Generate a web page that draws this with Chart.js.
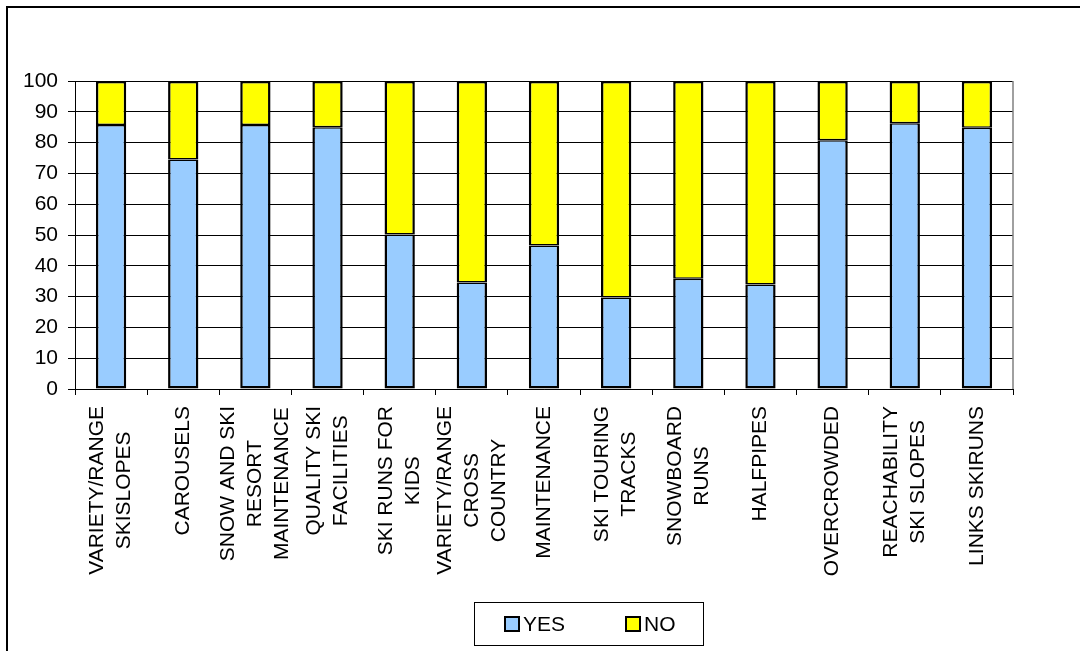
<!DOCTYPE html>
<html>
<head>
<meta charset="utf-8">
<script src="https://cdn.jsdelivr.net/npm/chart.js@4.4.1/dist/chart.umd.min.js"></script>
<style>
  body { margin: 0; background: #fff; overflow: hidden; }
  .marco { position: absolute; left: 6px; top: 6px; width: 1100px; height: 700px; border: 2px solid #000; }
  canvas { position: absolute; left: 0; top: 0; }
</style>
</head>
<body>
<div class="marco"></div>
<canvas id="grafico" width="1080" height="651"></canvas>
<script>
// categorias (cada linha do rótulo numa posição do array)
const categorias = [
  ["VARIETY/RANGE", "SKISLOPES"],
  ["CAROUSELS"],
  ["SNOW AND SKI", "RESORT", "MAINTENANCE"],
  ["QUALITY SKI", "FACILITIES"],
  ["SKI RUNS FOR", "KIDS"],
  ["VARIETY/RANGE", "CROSS", "COUNTRY"],
  ["MAINTENANCE"],
  ["SKI TOURING", "TRACKS"],
  ["SNOWBOARD", "RUNS"],
  ["HALFPIPES"],
  ["OVERCROWDED"],
  ["REACHABILITY", "SKI SLOPES"],
  ["LINKS SKIRUNS"]
];
const valoresSim = [85.7, 74.5, 85.7, 85.0, 50.2, 34.6, 46.6, 29.7, 35.8, 33.9, 80.8, 86.3, 84.8];
const valoresNao = [14.3, 25.5, 14.3, 15.0, 49.8, 65.4, 53.4, 70.3, 64.2, 66.1, 19.2, 13.7, 15.2];
const ticksY = [0, 10, 20, 30, 40, 50, 60, 70, 80, 90, 100];
const legendas = ["YES", "NO"];

const FONTE = "'Liberation Sans', Arial, sans-serif";
Chart.defaults.font.family = FONTE;
Chart.defaults.font.size = 21;
Chart.defaults.color = "#000";

// rótulos do eixo x rotacionados, com as linhas centradas entre si
const rotulosX = {
  id: "rotulosX",
  afterDraw(chart) {
    const ctx = chart.ctx;
    const escala = chart.scales.x;
    const entrelinha = 27;
    ctx.save();
    ctx.font = "21px " + FONTE;
    ctx.fillStyle = "#000";
    ctx.textAlign = "center";
    ctx.textBaseline = "middle";
    categorias.forEach((linhas, i) => {
      const larg = Math.max(...linhas.map(l => ctx.measureText(l).width));
      const x = escala.getPixelForTick(i);
      const y = escala.top + 17 + larg / 2;
      ctx.save();
      ctx.translate(x, y);
      ctx.rotate(-Math.PI / 2);
      linhas.forEach((l, j) => {
        ctx.fillText(l, 0, (j - (linhas.length - 1) / 2) * entrelinha);
      });
      ctx.restore();
    });
    ctx.restore();
  }
};

// borda direita cinza da área do gráfico + legenda com moldura
const moldura = {
  id: "moldura",
  afterDraw(chart) {
    const ctx = chart.ctx;
    const area = chart.chartArea;
    ctx.save();
    ctx.strokeStyle = "#808080";
    ctx.lineWidth = 1.5;
    ctx.beginPath();
    ctx.moveTo(area.right, area.top);
    ctx.lineTo(area.right, area.bottom);
    ctx.stroke();

    // legenda
    ctx.strokeStyle = "#000";
    ctx.lineWidth = 1;
    ctx.strokeRect(474.5, 602.5, 229, 43);
    const posX = [505, 626];
    ctx.font = "21px " + FONTE;
    ctx.textBaseline = "middle";
    ctx.textAlign = "left";
    chart.data.datasets.forEach((ds, i) => {
      ctx.fillStyle = ds.backgroundColor;
      ctx.fillRect(posX[i], 617, 14, 14);
      ctx.lineWidth = 2;
      ctx.strokeStyle = "#000";
      ctx.strokeRect(posX[i], 617, 14, 14);
      ctx.fillStyle = "#000";
      ctx.fillText(ds.label, posX[i] + 18, 625);
    });
    ctx.restore();
  }
};

new Chart(document.getElementById("grafico"), {
  type: "bar",
  data: {
    labels: categorias,
    datasets: [
      {
        label: legendas[0],
        data: valoresSim,
        backgroundColor: "#99CCFF",
        borderColor: "#000",
        borderWidth: { top: 1.5, right: 2.5, bottom: 2.5, left: 2.5 },
        borderSkipped: false,
        barPercentage: 0.42,
        categoryPercentage: 1
      },
      {
        label: legendas[1],
        data: valoresNao,
        backgroundColor: "#FFFF00",
        borderColor: "#000",
        borderWidth: { top: 2.5, right: 2.5, bottom: 1.5, left: 2.5 },
        borderSkipped: false,
        barPercentage: 0.42,
        categoryPercentage: 1
      }
    ]
  },
  options: {
    responsive: false,
    animation: false,
    layout: { padding: { top: 81, right: 67, bottom: 62, left: 0 } },
    plugins: {
      legend: { display: false },
      tooltip: { enabled: false }
    },
    scales: {
      x: {
        stacked: true,
        offset: true,
        grid: { offset: true, drawOnChartArea: false, color: "#000", tickLength: 6 },
        border: { color: "#000", width: 1 },
        ticks: { display: false },
        afterFit(escala) { escala.height = 200; }
      },
      y: {
        stacked: true,
        min: 0,
        max: 100,
        afterBuildTicks(escala) { escala.ticks = ticksY.map(v => ({ value: v })); },
        grid: { color: "#000", tickLength: 7 },
        border: { color: "#000", width: 1 },
        ticks: { padding: 10, font: { size: 21 } },
        afterFit(escala) { escala.width = 75; }
      }
    }
  },
  plugins: [rotulosX, moldura]
});
</script>
</body>
</html>
